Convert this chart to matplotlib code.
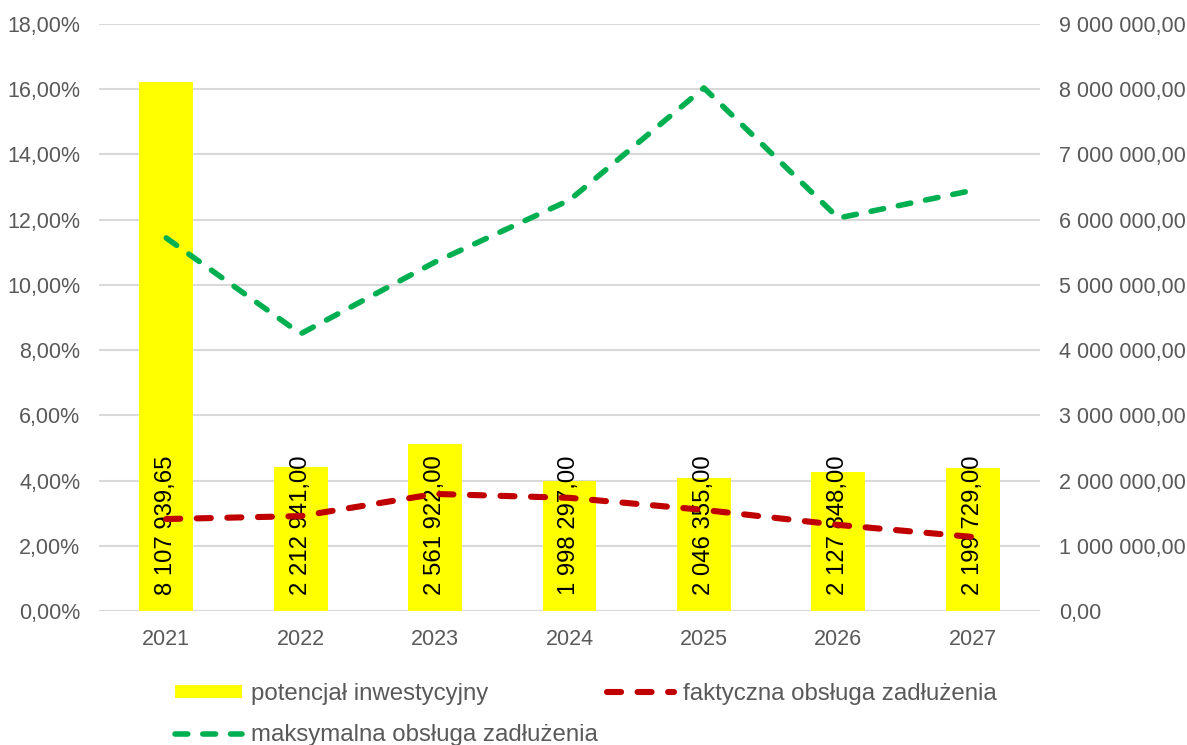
import matplotlib
matplotlib.use("Agg")
import matplotlib.pyplot as plt
from matplotlib.ticker import FuncFormatter

plt.rcParams['font.family'] = ['Liberation Sans', 'DejaVu Sans']

years = ['2021', '2022', '2023', '2024', '2025', '2026', '2027']
potencjal = [8107939.65, 2212941.00, 2561922.00, 1998297.00, 2046355.00, 2127848.00, 2199729.00]
faktyczna = [2.82, 2.91, 3.59, 3.47, 3.10, 2.64, 2.27]
maksymalna = [11.44, 8.50, 10.70, 12.60, 16.04, 12.05, 12.90]

grey = '#595959'
grid_c = '#d9d9d9'

fig = plt.figure(figsize=(11.87, 7.45), dpi=100)
ax = fig.add_axes([99 / 1187, 134 / 745, 941 / 1187, 587 / 745])
ax2 = ax.twinx()

x = list(range(len(years)))

# bars on the right axis, lines on the left axis in front
ax2.set_zorder(1)
ax.set_zorder(2)
ax.patch.set_visible(False)

bars = ax2.bar(x, potencjal, width=0.4, color='#ffff00', zorder=2)
for xi, v in zip(x, potencjal):
    s = f"{v:,.2f}".replace(',', ' ').replace('.', ',')
    ax2.text(xi, 240000, s, rotation=90, ha='center', va='bottom', fontsize=17.2,
             color='black', zorder=3)

dash = (0, (2.3, 2.7))
l1, = ax.plot(x, faktyczna, color='#c00000', lw=4.4, linestyle=dash,
              dash_capstyle='round')
l2, = ax.plot(x, maksymalna, color='#00b050', lw=4.0, linestyle=dash,
              dash_capstyle='round')

ax.set_ylim(0, 18)
ax.set_yticks(range(0, 19, 2))
ax.yaxis.set_major_formatter(FuncFormatter(lambda v, p: f"{v:.2f}%".replace('.', ',')))
ax2.set_ylim(0, 9000000)
ax2.set_yticks(range(0, 9000001, 1000000))
ax2.yaxis.set_major_formatter(FuncFormatter(lambda v, p: f"{v:,.2f}".replace(',', ' ').replace('.', ',')))

ax.set_xlim(-0.5, len(years) - 0.5)
ax.set_xticks(x)
ax.set_xticklabels(years)

for a in (ax, ax2):
    for sp in a.spines.values():
        sp.set_visible(False)
    a.tick_params(length=0, labelsize=15.5, labelcolor=grey)
ax.tick_params(axis='y', pad=13.5)
ax2.tick_params(axis='y', pad=13.5)
ax.tick_params(axis='x', pad=13)

ax2.grid(axis='y', color=grid_c, lw=1.5, zorder=0)
ax2.set_axisbelow(True)

fig.legend([bars, l2, l1],
           ['potencjał inwestycyjny', 'maksymalna obsługa zadłużenia', 'faktyczna obsługa zadłużenia'],
           loc='upper left', bbox_to_anchor=(175 / 1187, 1 - 683 / 745), ncol=2, frameon=False,
           fontsize=17.3, labelcolor=grey, handlelength=2.8, handleheight=0.5,
           columnspacing=0.4, handletextpad=0.35, labelspacing=0.8,
           borderpad=0, borderaxespad=0)

fig.savefig('out.png', dpi=100)
